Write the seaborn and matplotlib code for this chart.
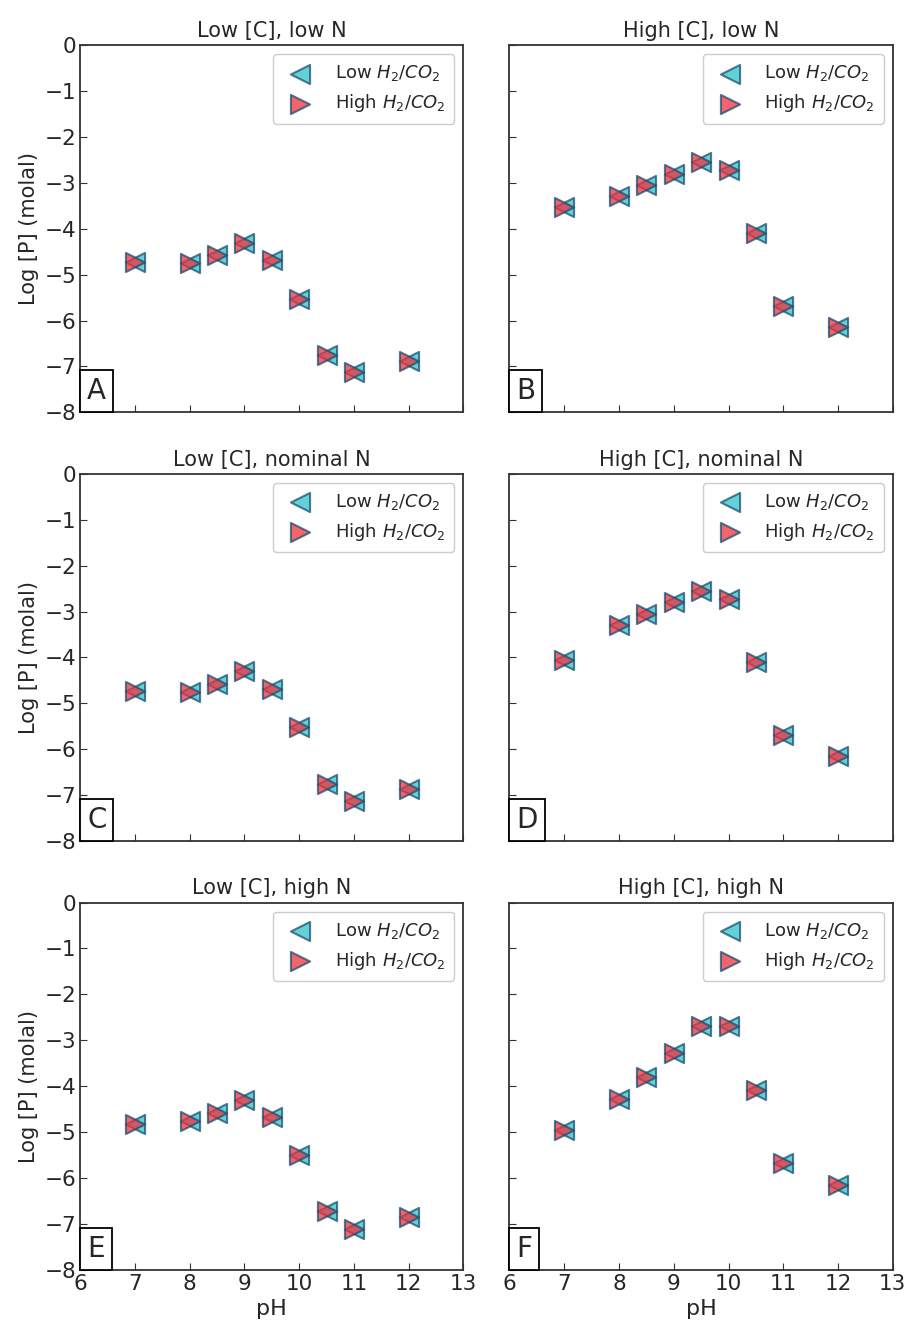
import numpy as np
import pandas as pd
import seaborn as sns
import matplotlib.pyplot as plt
from matplotlib.offsetbox import AnchoredText

ph = [7, 8, 8.5, 9, 9.5, 10, 10.5, 11, 12]

# log [P] per panel (low and high H2/CO2 overlap in the figure)
logp_a = [-4.72, -4.75, -4.58, -4.30, -4.68, -5.52, -6.75, -7.12, -6.87]
logp_b = [-3.52, -3.28, -3.05, -2.80, -2.55, -2.72, -4.10, -5.68, -6.15]
logp_c = [-4.72, -4.75, -4.58, -4.30, -4.68, -5.52, -6.75, -7.12, -6.87]
logp_d = [-4.05, -3.30, -3.05, -2.80, -2.55, -2.72, -4.10, -5.68, -6.15]
logp_e = [-4.82, -4.75, -4.58, -4.30, -4.68, -5.50, -6.72, -7.12, -6.85]
logp_f = [-4.95, -4.28, -3.80, -3.27, -2.70, -2.70, -4.08, -5.68, -6.15]

titles = ["Low [C], low N", "High [C], low N",
          "Low [C], nominal N", "High [C], nominal N",
          "Low [C], high N", "High [C], high N"]
letters = ["A", "B", "C", "D", "E", "F"]
panels = [logp_a, logp_b, logp_c, logp_d, logp_e, logp_f]

sns.set_style("ticks")
plt.rcParams['font.family'] = ['DejaVu Sans']
plt.rcParams['xtick.direction'] = 'in'
plt.rcParams['ytick.direction'] = 'in'

fig, axes = plt.subplots(3, 2, figsize=(9.11, 13.35), dpi=100, sharex=True, sharey=True)
fig.subplots_adjust(left=0.088, right=0.98, top=0.966, bottom=0.049, wspace=0.12, hspace=0.168)

for ax, vals, title, letter in zip(axes.flat, panels, titles, letters):
    df = pd.DataFrame({"pH": ph, "logP": vals})
    sns.scatterplot(data=df, x="pH", y="logP", marker="<", s=190, color="#2ec4cc",
                    edgecolor="#1b4f72", linewidth=1.5, alpha=0.75, ax=ax,
                    label="Low $H_2/CO_2$")
    sns.scatterplot(data=df, x="pH", y="logP", marker=">", s=190, color="#f0303c",
                    edgecolor="#1b4f72", linewidth=1.5, alpha=0.75, ax=ax,
                    label="High $H_2/CO_2$")
    ax.set_xlim(6, 13)
    ax.set_ylim(-8, 0)
    ax.set_xticks(range(6, 14))
    ax.set_yticks(range(-8, 1))
    ax.set_title(title, fontsize=15)
    ax.set_xlabel("")
    ax.set_ylabel("")
    ax.tick_params(labelsize=15.5, length=5, color="#333333", pad=3)
    for sp in ax.spines.values():
        sp.set_color("#333333")
        sp.set_linewidth(1.3)
    ax.legend(loc="upper right", fontsize=13, framealpha=1, edgecolor="#cccccc",
              handletextpad=0.9, borderpad=0.5)
    at = AnchoredText(letter, loc="lower left", prop=dict(size=20), pad=0.25,
                      borderpad=0, frameon=True)
    at.patch.set_linewidth(1.3)
    ax.add_artist(at)

for ax in axes[:, 0]:
    ax.set_ylabel("Log [P] (molal)", fontsize=15)
for ax in axes[-1, :]:
    ax.set_xlabel("pH", fontsize=16)

fig.savefig("out.png", dpi=100)
